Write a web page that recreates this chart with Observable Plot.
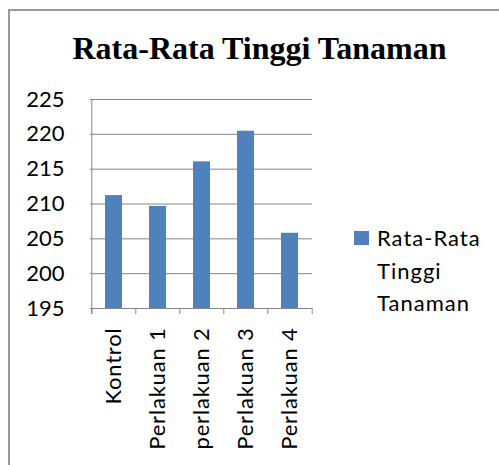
<!DOCTYPE html>
<html>
<head>
<meta charset="utf-8">
<script src="https://cdn.jsdelivr.net/npm/d3@7"></script>
<script src="https://cdn.jsdelivr.net/npm/@observablehq/plot@0.6"></script>
<style>
  html, body { margin: 0; padding: 0; background: #fff; overflow: hidden; }
  #wrap { position: relative; width: 499px; height: 465px; overflow: hidden; }
  #frame { position: absolute; left: 8px; top: 9px; width: 700px; height: 700px; border: 2px solid #9a9a9a; box-sizing: border-box; }
  #title { position: absolute; left: 0; width: 519px; top: 30px; text-align: center; font-family: "Liberation Serif", "Times New Roman", serif; font-weight: bold; font-size: 32px; line-height: normal; color: #000; white-space: nowrap; }
  #chart { position: absolute; left: 0; top: 80px; }
  #chart g[aria-label="x-axis tick label"] text { letter-spacing: 0.8px; }
  #legend { position: absolute; left: 354px; top: 222px; font-family: Lato, "Open Sans", sans-serif; font-size: 22px; line-height: 32.5px; letter-spacing: 1px; color: #000; }
  #legend .sw { position: absolute; left: 0; top: 9px; width: 15px; height: 14px; background: #4F81BD; }
  #legend .tx { margin-left: 23px; }
</style>
</head>
<body>
<div id="wrap">
  <div id="frame"></div>
  <div id="title">Rata-Rata Tinggi Tanaman</div>
  <div id="chart"></div>
  <div id="legend"><div class="sw"></div><div class="tx">Rata-Rata<br>Tinggi<br>Tanaman</div></div>
</div>
<script>
const categories = ["Kontrol", "Perlakuan 1", "perlakuan 2", "Perlakuan 3", "Perlakuan 4"];
const values = [211.2, 209.65, 216.05, 220.45, 205.8];
const yTicks = [195, 200, 205, 210, 215, 220, 225];
const seriesName = "Rata-Rata Tinggi Tanaman";

const data = categories.map((c, i) => ({cat: c, value: values[i]}));

const W = 330, H = 385, ML = 90, MR = 18, MT = 19, MB = 157;
const step = (W - ML - MR) / categories.length;
const gridColor = "#868686";

const chart = Plot.plot({
  width: W, height: H,
  marginLeft: ML, marginRight: MR, marginTop: MT, marginBottom: MB,
  style: {fontFamily: "Lato, 'Open Sans', sans-serif", fontSize: "22px", color: "#000", overflow: "visible", background: "transparent"},
  x: {domain: categories, type: "band", paddingInner: 0.616, paddingOuter: 0.308},
  y: {domain: [195, 225]},
  marks: [
    Plot.gridY(yTicks, {stroke: gridColor, strokeOpacity: 1}),
    Plot.barY(data, {x: "cat", y1: 195, y2: "value", fill: "#4F81BD"}),
    Plot.ruleX([categories[0]], {x: d => d, dx: -step / 2, y1: 225, y2: 195, insetBottom: -6, stroke: gridColor}),
    Plot.ruleX(categories, {x: d => d, dx: -step / 2, y1: 195, y2: 195, insetBottom: -6, stroke: gridColor}),
    Plot.ruleX([categories[categories.length - 1]], {x: d => d, dx: step / 2, y1: 195, y2: 195, insetBottom: -6, stroke: gridColor}),
    Plot.axisY({ticks: yTicks, tickSize: 0, tickPadding: 26, label: null, fill: "#000", fontSize: 22}),
    Plot.axisX({tickSize: 0, tickPadding: 19, tickRotate: -90, label: null, fill: "#000", fontSize: 22})
  ]
});
document.getElementById("chart").appendChild(chart);
</script>
</body>
</html>
